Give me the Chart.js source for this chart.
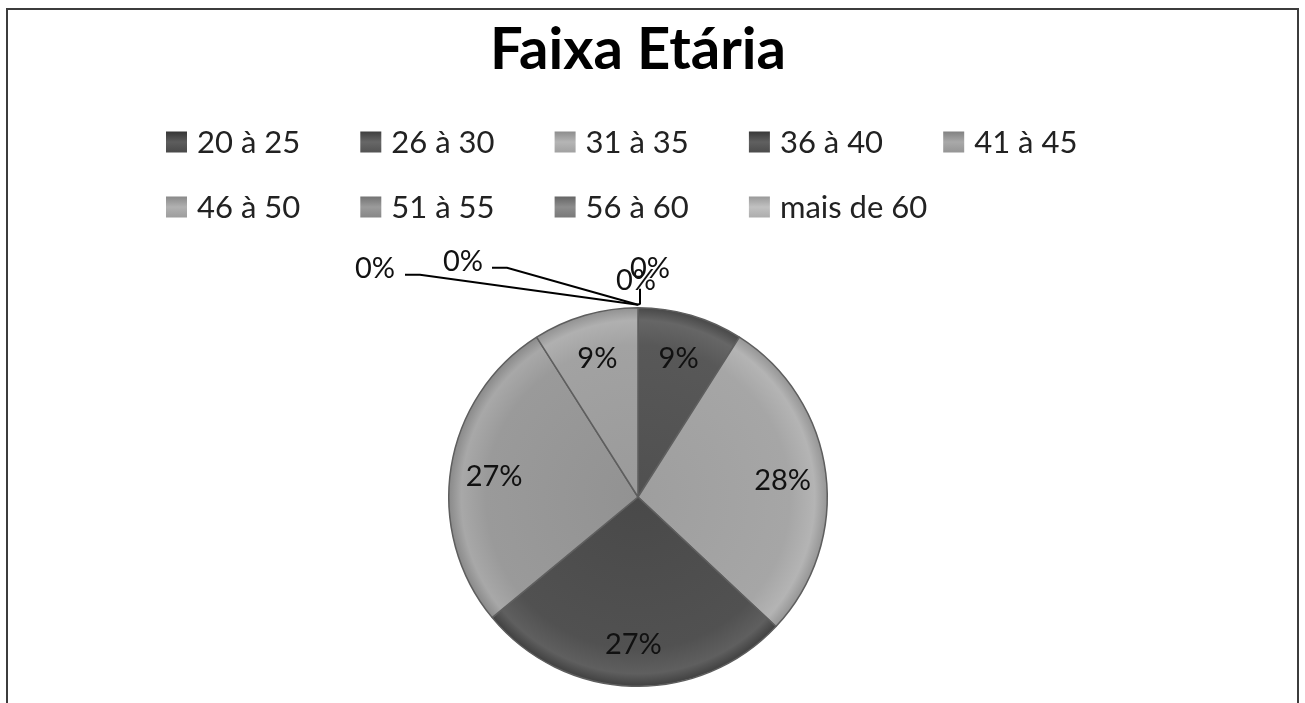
<!DOCTYPE html>
<html><head><meta charset="utf-8">
<script src="https://cdn.jsdelivr.net/npm/chart.js@4"></script>
<style>
html,body{margin:0;padding:0;background:#fff;}
#wrap{position:relative;width:1305px;height:703px;overflow:hidden;}
#frame{position:absolute;left:6px;top:8px;width:1289px;height:720px;border:2px solid #3c3c3c;border-bottom:none;pointer-events:none;}
canvas{position:absolute;left:0;top:0;}
</style></head><body>
<div id="wrap"><canvas id="c" width="1305" height="703"></canvas><div id="frame"></div></div>
<script>
const chartTitle = 'Faixa Etária';
const categories = ['20 à 25','26 à 30','31 à 35','36 à 40','41 à 45','46 à 50','51 à 55','56 à 60','mais de 60'];
const percentages = [0, 9, 28, 27, 27, 9, 0, 0, 0];
const sliceColors = ['#4e4e4e','#585858','#a6a6a6','#515151','#9a9a9a','#a2a2a2','#8c8c8c','#7e7e7e','#b2b2b2'];

function shade(hex, amt){
  const n = parseInt(hex.slice(1),16);
  let r=(n>>16)&255,g=(n>>8)&255,b=n&255;
  r=Math.max(0,Math.min(255,r+amt));g=Math.max(0,Math.min(255,g+amt));b=Math.max(0,Math.min(255,b+amt));
  return 'rgb('+r+','+g+','+b+')';
}

const zeroCallouts = {
  0: {t:[12,-36], line:null},
  6: {t:[-263,-36], line:[[-233,-30],[-218,-30]]},
  7: {t:[-175,-43], line:[[-146,-37],[-131,-37]]},
  8: {t:[-2,-24], line:[[2,-16],[2,-1]]}
};

const labelPlugin = {
  id:'sliceLabels',
  afterDatasetsDraw(chart){
    const ctx = chart.ctx;
    const meta = chart.getDatasetMeta(0);
    const total = percentages.reduce((a,b)=>a+b,0);
    ctx.save();
    ctx.font = '29px Lato';
    ctx.fillStyle = '#111';
    ctx.textAlign = 'center';
    ctx.textBaseline = 'middle';
    const order = [8,6,7,0,1,2,3,4,5];
    order.forEach(i=>{
      const arc = meta.data[i];
      const v = percentages[i];
      const txt = Math.round(v/total*100)+'%';
      if (v>0){
        const mid=(arc.startAngle+arc.endAngle)/2;
        const r=arc.outerRadius*0.77;
        ctx.fillText(txt, arc.x+Math.cos(mid)*r, arc.y+Math.sin(mid)*r+2);
      } else {
        const c = zeroCallouts[i];
        const ax = arc.x + Math.cos(arc.startAngle)*arc.outerRadius;
        const ay = arc.y + Math.sin(arc.startAngle)*arc.outerRadius - 3;
        if (c.line){
          ctx.beginPath();
          ctx.strokeStyle='#000';ctx.lineWidth=2;
          ctx.moveTo(ax+c.line[0][0], ay+c.line[0][1]);
          ctx.lineTo(ax+c.line[1][0], ay+c.line[1][1]);
          ctx.lineTo(ax, ay);
          ctx.stroke();
        }
        ctx.fillText(txt, ax+c.t[0], ay+c.t[1]);
      }
    });
    ctx.restore();
  }
};

const legendPlugin = {
  id:'gridLegend',
  afterDraw(chart){
    const ctx = chart.ctx;
    ctx.save();
    ctx.font = '31px Lato';
    ctx.fillStyle = '#222';
    ctx.textBaseline = 'middle';
    ctx.textAlign = 'left';
    const x0 = 166, dx = 194.3, rowsY = [142, 207], perRow = 5, box = 21;
    categories.forEach((lab,i)=>{
      const col = i%perRow, row = Math.floor(i/perRow);
      const x = x0 + col*dx, y = rowsY[row];
      const g = ctx.createLinearGradient(x, y-box/2, x, y+box/2);
      g.addColorStop(0, shade(sliceColors[i], -25));
      g.addColorStop(0.5, shade(sliceColors[i], 15));
      g.addColorStop(1, shade(sliceColors[i], -5));
      ctx.fillStyle = g;
      ctx.fillRect(x, y-box/2, box, box);
      ctx.fillStyle = '#222';
      ctx.fillText(lab, x+31, y+1);
    });
    ctx.restore();
  }
};

new Chart(document.getElementById('c'), {
  type:'pie',
  data:{
    labels: categories,
    datasets:[{
      data: percentages,
      backgroundColor: (c)=>{
        const base = sliceColors[c.dataIndex];
        const a = c.chart.chartArea;
        if(!a) return base;
        const cx=(a.left+a.right)/2, cy=(a.top+a.bottom)/2, r=Math.min(a.width,a.height)/2;
        const g=c.chart.ctx.createRadialGradient(cx,cy,0,cx,cy,r);
        g.addColorStop(0, shade(base,-8));
        g.addColorStop(0.8, base);
        g.addColorStop(0.93, shade(base,14));
        g.addColorStop(1, shade(base,-18));
        return g;
      },
      borderColor:'#5e5e5e',
      borderWidth:1.5
    }]
  },
  options:{
    responsive:false,
    devicePixelRatio:1,
    animation:false,
    layout:{padding:{left:0,right:29,top:0,bottom:16}},
    plugins:{
      legend:{display:false},
      tooltip:{enabled:false},
      title:{display:true,text:chartTitle,color:'#000',font:{family:'Lato',size:58,weight:'bold',lineHeight:1.2},padding:{top:15,bottom:222.4}}
    }
  },
  plugins:[labelPlugin, legendPlugin]
});
</script>
</body></html>
